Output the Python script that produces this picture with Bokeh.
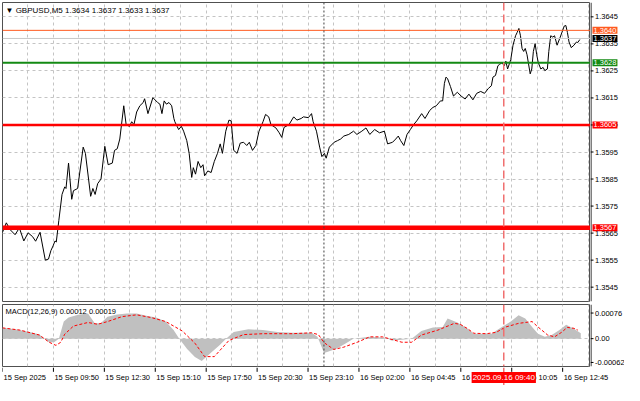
from bokeh.plotting import figure
from bokeh.models import Span, Label, FixedTicker, Range1d, ColumnDataSource
from bokeh.layouts import column, row
from bokeh.core.properties import value
from bokeh.embed import file_html
from bokeh.resources import INLINE

# ---------------- data ----------------
bars = [0, 2.4, 4.9, 7.9, 10.6, 13.4, 16.1, 18.9, 20.8, 23.6,
        26.9, 28.9, 30.4, 31.8, 33.0, 33.8, 35.4, 37.4, 39.1, 39.9,
        41.5, 43.5, 44.6, 47.2, 50.7, 52.1, 55.4, 56.8, 58.2, 59.8,
        61.9, 64.3, 66.4, 69.0, 70.4, 72.1, 73.7, 76.2, 77.7, 79.8,
        81.2, 82.6, 84.3, 86.3, 88.4, 89.3, 91.4, 94.5, 97.5, 98.9,
        100.2, 101.6, 103.0, 104.6, 106.3, 107.7, 108.3, 109.7, 110.7, 112.4,
        113.8, 115.8, 117.3, 118.9, 119.9, 121.3, 122.9, 124.6, 126.0, 127.0,
        129.0, 131.1, 133.1, 135.1, 136.8, 138.2, 140.3, 142.3, 143.7, 145.3,
        147.4, 149.4, 151.5, 153.5, 155.1, 157.1, 159.2, 161.2, 163.7, 165.3,
        167.3, 168.7, 171.8, 173.9, 175.5, 176.9, 180.0, 183.0, 185.0, 187.7,
        189.1, 192.2, 194.2, 195.2, 197.3, 199.3, 200.7, 202.3, 203.4, 205.4,
        208.4, 210.5, 212.5, 214.5, 217.6, 220.6, 222.7, 225.8, 228.4, 230.8,
        233.9, 236.9, 240.0, 242.0, 245.1, 247.1, 248.7, 250.2, 252.2, 254.2,
        256.3, 258.3, 260.3, 263.4, 265.5, 268.5, 270.5, 272.6, 275.2, 276.6,
        277.7, 278.7, 279.7, 281.5, 283.4, 285.8, 288.2, 290.7, 293.1, 295.6,
        298.0, 300.5, 302.9, 305.3, 307.2, 308.2, 309.8, 311.3, 312.3, 313.9,
        315.3, 316.3, 317.4, 319.4, 320.8, 322.4, 323.4, 324.5, 325.5, 326.5,
        327.5, 328.5, 329.6, 331.6, 332.6, 333.6, 334.7, 335.7, 336.7, 338.3,
        339.7, 340.8, 342.4, 343.3, 344.5, 345.8, 346.9, 348.5, 350.5, 353.0,
        354.0, 355.0, 356.0, 357.4, 359.1, 360.7, 361.5, 362.8]

close = [1.35653, 1.35688, 1.35662, 1.35644, 1.35669, 1.35621, 1.35651, 1.35637, 1.35620, 1.35653,
         1.35550, 1.35554, 1.35585, 1.35603, 1.35621, 1.35617, 1.35697, 1.35793, 1.35821, 1.35815,
         1.35909, 1.35775, 1.35807, 1.35815, 1.35968, 1.35945, 1.35786, 1.35815, 1.35793, 1.35833,
         1.35850, 1.35971, 1.35903, 1.35909, 1.35956, 1.35962, 1.35998, 1.36121, 1.36051, 1.36045,
         1.36062, 1.36051, 1.36098, 1.36121, 1.36133, 1.36147, 1.36092, 1.36151, 1.36133, 1.36127,
         1.36092, 1.36139, 1.36127, 1.36133, 1.36121, 1.36074, 1.36062, 1.36045, 1.36033, 1.36045,
         1.36027, 1.35992, 1.35945, 1.35856, 1.35892, 1.35868, 1.35915, 1.35892, 1.35903, 1.35862,
         1.35880, 1.35874, 1.35915, 1.35945, 1.35980, 1.35945, 1.36027, 1.36068, 1.36065, 1.35956,
         1.35945, 1.35983, 1.35986, 1.35974, 1.35986, 1.35956, 1.35974, 1.36027, 1.36062, 1.36089,
         1.36080, 1.36051, 1.36039, 1.36021, 1.36004, 1.36041, 1.36051, 1.36080, 1.36068, 1.36074,
         1.36080, 1.36077, 1.36092, 1.36062, 1.36027, 1.35968, 1.35933, 1.35945, 1.35927, 1.35968,
         1.35986, 1.35992, 1.35998, 1.36009, 1.36015, 1.36027, 1.36015, 1.36027, 1.36039, 1.36015,
         1.36033, 1.36021, 1.36027, 1.35980, 1.35986, 1.35998, 1.36009, 1.35992, 1.35974, 1.36015,
         1.36033, 1.36051, 1.36065, 1.36092, 1.36074, 1.36104, 1.36115, 1.36121, 1.36139, 1.36139,
         1.36204, 1.36227, 1.36221, 1.36192, 1.36157, 1.36171, 1.36157, 1.36146, 1.36164, 1.36143,
         1.36167, 1.36174, 1.36167, 1.36185, 1.36195, 1.36227, 1.36233, 1.36269, 1.36274, 1.36280,
         1.36269, 1.36286, 1.36257, 1.36292, 1.36345, 1.36380, 1.36392, 1.36407, 1.36380, 1.36333,
         1.36322, 1.36333, 1.36310, 1.36239, 1.36257, 1.36322, 1.36351, 1.36310, 1.36280, 1.36257,
         1.36263, 1.36251, 1.36257, 1.36322, 1.36380, 1.36375, 1.36380, 1.36345, 1.36375, 1.36416,
         1.36418, 1.36392, 1.36357, 1.36336, 1.36345, 1.36357, 1.36355, 1.36366]

hist_x = [0, 7.9, 17.1, 23.2, 26.3, 29.3, 32.4, 35.4, 38.5, 41.5,
          47.6, 53.7, 58.0, 61.7, 66.0, 72.0, 78.2, 84.3, 90.4, 96.5,
          102.6, 107.5, 111.1, 116.0, 120.9, 125.2, 130.1, 136.2, 140.5, 145.3,
          154.5, 163.7, 172.8, 182.0, 194.2, 197.9, 202.1, 209.5, 215.6, 220.5,
          230.8, 241.2, 244.3, 249.2, 257.1, 263.2, 270.5, 276.6, 279.7, 285.8,
          291.9, 296.2, 307.2, 313.3, 319.4, 324.3, 328.5, 332.8, 336.5, 340.8,
          345.1, 350.0, 354.2, 359.1, 363.4]
hist = [0.00024, 0.00021, 0.00015, 0.00009, 0.0, -0.00008, -0.00008, 0.0, 0.00038, 0.00047,
        0.00053, 0.00056, 0.00034, 0.00034, 0.00049, 0.00054, 0.00056, 0.00056, 0.00051, 0.00047,
        0.00038, 0.00019, 0.0, -0.00023, -0.00041, -0.00050, -0.00034, -0.00015, 0.0, 0.00015,
        0.00021, 0.00019, 0.00015, 0.00013, 0.00013, 0.00004, -0.00032, -0.00023, -0.00011, 0.0,
        0.00004, 0.00002, -0.00004, -0.00003, 0.0, 0.00017, 0.00025, 0.00026, 0.00045, 0.00036,
        0.00023, 0.00011, 0.00011, 0.00025, 0.00038, 0.00052, 0.00045, 0.00026, 0.00011, 0.00004,
        0.00008, 0.00019, 0.00031, 0.00022, 0.00012]

sig_x = [0, 11.0, 23.2, 29.3, 33.6, 36.6, 39.1, 44.6, 53.7, 59.8,
         66.0, 75.1, 84.3, 93.4, 102.6, 113.0, 120.9, 127.0, 133.1, 142.3,
         151.5, 163.7, 182.0, 194.2, 198.5, 202.1, 208.2, 214.4, 222.9, 230.8,
         238.8, 251.0, 257.1, 263.2, 273.6, 283.9, 287.6, 291.9, 296.2, 304.1,
         310.2, 316.3, 324.3, 332.8, 336.5, 342.6, 346.9, 351.3, 354.9, 359.1, 361.5]
sig = [0.00024, 0.00019, 0.00008, -0.00008, -0.00015, -0.00008, 0.00010, 0.00028, 0.00036, 0.00032,
       0.00038, 0.00049, 0.00053, 0.00047, 0.00038, 0.00017, -0.00010, -0.00040, -0.00040, -0.00004,
       0.00009, 0.00011, 0.00011, 0.00013, 0.00009, -0.00009, -0.00024, -0.00019, -0.00008, 0.00004,
       0.00004, -0.00008, -0.00008, 0.00008, 0.00019, 0.00034, 0.00032, 0.00023, 0.00012, 0.00011,
       0.00014, 0.00026, 0.00034, 0.00038, 0.00026, 0.00008, 0.00004, 0.00014, 0.00025, 0.00023, 0.00019]

tick_bars = [0, 32, 64, 96, 128, 160, 192, 224, 256, 288, 320, 352]
tick_labels = ["15 Sep 2025", "15 Sep 09:50", "15 Sep 12:30", "15 Sep 15:10",
               "15 Sep 17:50", "15 Sep 20:30", "15 Sep 23:10", "16 Sep 02:00",
               "16 Sep 04:45", "16 Sep 07:25", "16 Sep 10:05", "16 Sep 12:45"]
grid_bars = [16, 32, 48, 64, 80, 96, 112, 128, 144, 160, 176, 192, 208, 224,
             240, 256, 272, 288, 304, 320, 336, 352, 368]
price_ticks = [1.3545, 1.3555, 1.3565, 1.3575, 1.3585, 1.3595, 1.3605,
               1.3615, 1.3625, 1.3635, 1.3645]
price_tick_texts = ["1.3545", "1.3555", "1.3565", "1.3575", "1.3585", "1.3595", "1.3605",
                    "1.3615", "1.3625", "1.3635", "1.3645"]
level_values = [1.3640, 1.3637, 1.3628, 1.3605, 1.3567]
level_texts = ["1.3640", "1.3637", "1.3628", "1.3605", "1.3567"]
level_colors = ["#FF5A1F", "#C8C8C8", "#138A13", "#FF0000", "#FF0000"]
level_widths = [1, 1, 2, 2.5, 4.5]
label_colors = ["#FF5A1F", "#000000", "#138A13", "#FF0000", "#FF0000"]
macd_ticks = [0.00057, 0.0, -0.00053]
macd_tick_texts = ["0.00076", "0.00", "-0.00062"]
day_sep_bar = 202
event_bar = 315
event_text = "2025.09.16 09:40"
header = "\u25BC GBPUSD,M5  1.3634 1.3637 1.3633 1.3637"
macd_header = "MACD(12,26,9) 0.00012 0.00019"

# ---------------- layout ----------------
FONT = "Liberation Sans"
FS = "7.5px"
X_END = 369.5
GRID_C = "#C4C4C4"
MAIN_W = 590
AX_W = 34
MAIN_H = 302
MACD_H = 65
BOT_H = 18
# time strip spans the full width (panel + price scale) at the same bars-per-pixel scale
PB_END = X_END * (MAIN_W + AX_W - 2) / (MAIN_W - 2)


def base_fig(**kw):
    f = figure(output_backend="svg", toolbar_location=None, x_axis_location=None,
               y_axis_location=None, **kw)
    f.background_fill_color = "white"
    f.border_fill_color = "white"
    return f


def style_grid(f, xt, yt):
    f.xgrid.ticker = FixedTicker(ticks=xt)
    f.ygrid.ticker = FixedTicker(ticks=yt)
    for g in (f.xgrid, f.ygrid):
        g.grid_line_color = GRID_C
        g.grid_line_dash = "3 3"
        g.grid_line_width = 1


# ---- main price panel ----
p1 = base_fig(width=MAIN_W, height=MAIN_H, x_range=Range1d(0, X_END),
              y_range=Range1d(1.35397, 1.36503),
              min_border_left=2, min_border_right=0, min_border_top=2, min_border_bottom=1)
p1.outline_line_color = "#505050"
style_grid(p1, grid_bars, price_ticks)

for v, c, w in zip(level_values, level_colors, level_widths):
    p1.add_layout(Span(location=v, dimension="width", line_color=c, line_width=w))
p1.add_layout(Span(location=day_sep_bar, dimension="height", line_color="#404040",
                   line_dash="2 2", line_width=1))
p1.add_layout(Span(location=event_bar, dimension="height", line_color="#F07070",
                   line_dash="8 4", line_width=1.5))
p1.line(bars, close, line_color="black", line_width=1)
p1.add_layout(Label(x=0, y=1.36503, x_offset=3, y_offset=-3, text=header,
                    text_align="left", text_baseline="top", text_color="black",
                    text_font=FONT, text_font_size="8px"))

# ---- price scale strip ----
p1r = base_fig(width=AX_W, height=MAIN_H, x_range=Range1d(0, AX_W), y_range=p1.y_range,
               min_border_left=0, min_border_right=0, min_border_top=2, min_border_bottom=1)
p1r.outline_line_color = None
p1r.xgrid.visible = False
p1r.ygrid.visible = False
p1r.add_layout(Span(location=0.5, dimension="height", line_color="black", line_width=1))
p1r.segment(x0=0, x1=3, y0=price_ticks, y1=price_ticks, line_color="black", line_width=1)
p1r.text(x=4.5, y=price_ticks, text=price_tick_texts, text_align="left",
         text_baseline="middle", text_color="black", text_font=value(FONT),
         text_font_size=value(FS))
for v, t, c in zip(level_values, level_texts, label_colors):
    p1r.add_layout(Label(x=2, y=v, text=t, text_align="left", text_baseline="middle",
                         text_color="white", text_font=FONT, text_font_size=FS,
                         background_fill_color=c, padding=1))

# ---- MACD panel ----
p2 = base_fig(width=MAIN_W, height=MACD_H, x_range=p1.x_range,
              y_range=Range1d(-0.00062, 0.00076),
              min_border_left=2, min_border_right=0, min_border_top=2, min_border_bottom=1)
p2.outline_line_color = "#505050"
style_grid(p2, grid_bars, [0.0])

hsrc = ColumnDataSource(dict(x=hist_x, y2=hist, y1=[0.0] * len(hist)))
p2.varea(x="x", y1="y1", y2="y2", source=hsrc, fill_color="#C0C0C0")
p2.line(sig_x, sig, line_color="#FF0000", line_dash="3 2", line_width=1)
p2.add_layout(Span(location=day_sep_bar, dimension="height", line_color="#404040",
                   line_dash="2 2", line_width=1))
p2.add_layout(Span(location=event_bar, dimension="height", line_color="#F07070",
                   line_dash="8 4", line_width=1.5))
p2.add_layout(Label(x=0, y=0.00076, x_offset=3, y_offset=-2, text=macd_header,
                    text_align="left", text_baseline="top", text_color="black",
                    text_font=FONT, text_font_size=FS))

# ---- MACD scale strip ----
p2r = base_fig(width=AX_W, height=MACD_H, x_range=Range1d(0, AX_W), y_range=p2.y_range,
               min_border_left=0, min_border_right=0, min_border_top=2, min_border_bottom=1)
p2r.outline_line_color = None
p2r.xgrid.visible = False
p2r.ygrid.visible = False
p2r.add_layout(Span(location=0.5, dimension="height", line_color="black", line_width=1))
p2r.segment(x0=0, x1=3, y0=macd_ticks, y1=macd_ticks, line_color="black", line_width=1)
p2r.text(x=4.5, y=macd_ticks, text=macd_tick_texts, text_align="left",
         text_baseline="middle", text_color="black", text_font=value(FONT),
         text_font_size=value(FS))

# ---- time scale strip (full width) ----
pb = base_fig(width=MAIN_W + AX_W, height=BOT_H, x_range=Range1d(0, PB_END),
              y_range=Range1d(0, 1),
              min_border_left=2, min_border_right=0, min_border_top=0, min_border_bottom=0)
pb.outline_line_color = None
pb.xgrid.visible = False
pb.ygrid.visible = False
pb.segment(x0=tick_bars, x1=tick_bars, y0=1, y1=0.76, line_color="black", line_width=1)
pb.add_layout(Span(location=event_bar, dimension="height", line_color="#F07070",
                   line_dash="8 4", line_width=1.5))
pb.text(x=tick_bars, y=0.44, text=tick_labels, x_offset=1, text_align="left",
        text_baseline="middle", text_color="black", text_font=value(FONT),
        text_font_size=value(FS))
pb.add_layout(Label(x=event_bar, y=0.44, text=event_text, text_align="center",
                    text_baseline="middle", text_color="white", text_font=FONT,
                    text_font_size="8px", background_fill_color="#FF0000", padding=1))

layout = column(row(p1, p1r, spacing=0), row(p2, p2r, spacing=0), pb, spacing=0)

open("out.html", "w").write(file_html(layout, INLINE))
